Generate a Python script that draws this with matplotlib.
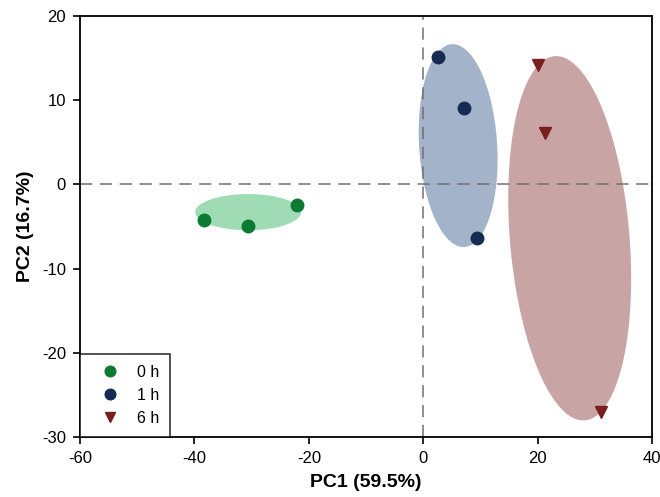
import matplotlib.pyplot as plt
from matplotlib.patches import Ellipse

plt.rcParams['font.family'] = ['Liberation Sans', 'DejaVu Sans']
plt.rcParams['axes.unicode_minus'] = False

# scores per group
groups = ["0 h", "1 h", "6 h"]
pc1_0h = [-38.3, -30.6, -22.1]
pc2_0h = [-4.2, -5.0, -2.4]
pc1_1h = [2.6, 7.1, 9.4]
pc2_1h = [15.1, 9.1, -6.4]
pc1_6h = [20.0, 21.3, 31.1]
pc2_6h = [14.2, 6.1, -27.0]

# ellipse centre x, centre y, width, height, angle
ell_0h = [-30.6, -3.3, 18.5, 4.3, 0]
ell_1h = [6.1, 4.6, 13.6, 24.2, 6.5]
ell_6h = [25.6, -6.4, 20.8, 43.6, 8.1]

point_colors = ["#0b7a33", "#172a52", "#7a1f1f"]
fill_colors = ["#9fdcb6", "#a3b3c9", "#c8a4a4"]
markers = ["o", "o", "v"]

fig = plt.figure(figsize=(6.6, 4.97), dpi=100)
ax = fig.add_axes([0.1212, 0.1207, 0.8668, 0.8473])

xs = [pc1_0h, pc1_1h, pc1_6h]
ys = [pc2_0h, pc2_1h, pc2_6h]
ells = [ell_0h, ell_1h, ell_6h]

for e, fc in zip(ells, fill_colors):
  ax.add_patch(Ellipse((e[0], e[1]), e[2], e[3], angle=e[4],
                       facecolor=fc, edgecolor='none', zorder=1))

ax.axhline(0, color='#707070', lw=1.1, dashes=(8, 5), zorder=2)
ax.axvline(0, color='#707070', lw=1.1, dashes=(8, 5), zorder=2)

for x, y, c, m, lab in zip(xs, ys, point_colors, markers, groups):
  ax.plot(x, y, linestyle='none', marker=m, markersize=9, color=c,
          markeredgecolor=c, label=lab, zorder=3)

ax.set_xlim(-60, 40)
ax.set_ylim(-30, 20)
ax.set_xticks([-60, -40, -20, 0, 20, 40])
ax.set_yticks([-30, -20, -10, 0, 10, 20])
ax.tick_params(direction='out', length=5, width=1.2, labelsize=12, colors='black', pad=5)
for s in ax.spines.values():
  s.set_linewidth(1.3)

ax.set_xlabel("PC1 (59.5%)", fontsize=14, fontweight='bold', labelpad=6)
ax.set_ylabel("PC2 (16.7%)", fontsize=14, fontweight='bold', labelpad=6)

leg = ax.legend(loc='lower left', frameon=True, fancybox=False, fontsize=11.5,
                markerscale=0.85, borderaxespad=0, handletextpad=0.45,
                borderpad=0.7, labelspacing=0.5, handlelength=2.4)
leg.get_frame().set_edgecolor('black')
leg.get_frame().set_linewidth(1.2)

fig.savefig("out.png", dpi=100)
